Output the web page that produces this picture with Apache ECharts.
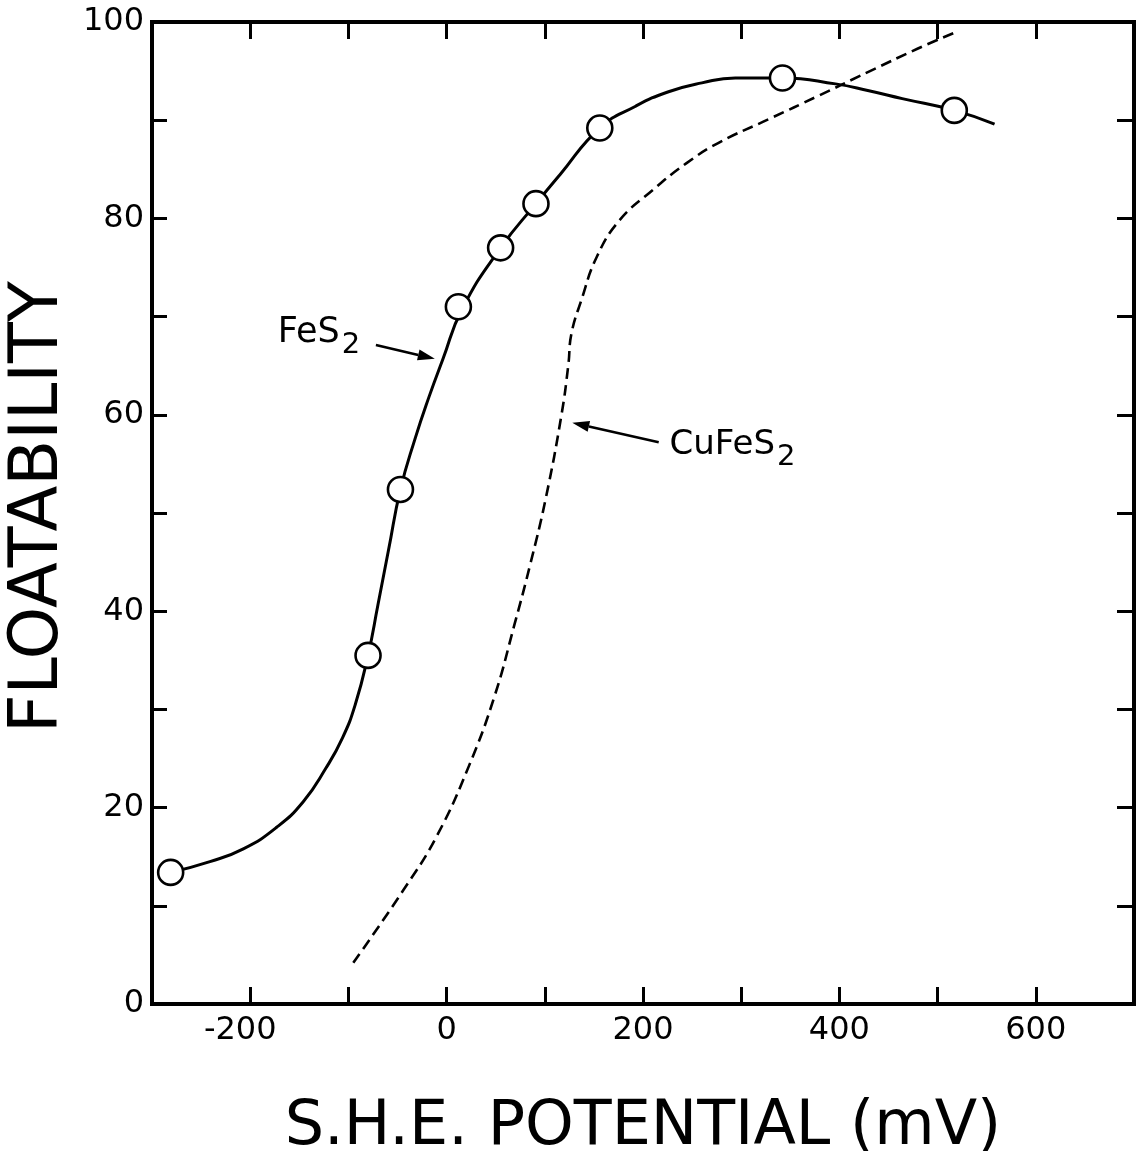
<!DOCTYPE html>
<html>
<head>
<meta charset="utf-8">
<script src="https://cdn.jsdelivr.net/npm/echarts@6/dist/echarts.min.js"></script>
<style>
  html, body { margin: 0; padding: 0; background: #fff; }
  #chart { width: 1142px; height: 1151px; }
</style>
</head>
<body>
<div id="chart"></div>
<script>
// FeS2: measured floatability points (open circles)
const fes2Potential = [-281, -80, -47, 12, 55, 91, 156, 342, 517];
const fes2Floatability = [13.4, 35.5, 52.4, 71.0, 77.0, 81.5, 89.2, 94.3, 91.0];

// FeS2: drawn trend curve (solid)
const fes2CurvePotential = [-281, -241, -207, -173, -146, -123, -106, -93, -80, -70, -59, -47, -32, -18, -4, 16, 55, 91, 115, 156, 192, 226, 260, 294, 342, 396, 430, 464, 517, 558];
const fes2CurveFloatability = [13.4, 14.5, 15.8, 18.0, 20.6, 24.0, 27.1, 30.5, 35.5, 40.6, 46.3, 52.4, 57.6, 61.8, 65.6, 70.8, 77.0, 81.5, 84.4, 89.2, 91.4, 92.9, 93.8, 94.3, 94.3, 93.7, 93.0, 92.2, 91.0, 89.6];

// CuFeS2: trend curve (dashed)
const cufes2CurvePotential = [-95, -44, -10, 23, 49, 69, 85, 101, 117, 124, 127, 137, 153, 176, 210, 244, 277, 328, 379, 429, 480, 517];
const cufes2CurveFloatability = [4.2, 11.6, 17.1, 24.3, 31.4, 38.6, 44.7, 51.5, 60.0, 65.1, 68.2, 71.6, 76.1, 79.8, 82.9, 85.6, 87.7, 90.1, 92.5, 94.9, 97.3, 98.9];

// Axis ranges and tick steps
const xRange = [-300, 700];
const xTickStep = 100;
const xLabelStep = 200;
const yRange = [0, 100];
const yTickStep = 10;
const yLabelStep = 20;

const xTitle = 'S.H.E. POTENTIAL (mV)';
const yTitle = 'FLOATABILITY';

const FONT = 'DejaVu Sans';
const INK = '#000';
const TICK_FONT = 32;

function pairs(xs, ys) { return xs.map((x, i) => [x, ys[i]]); }

function axisCommon(labels, tickLen, labelStep, isX) {
  return {
    type: 'value',
    axisLine: { show: true, onZero: false, lineStyle: { color: INK, width: 4, cap: 'square' } },
    axisTick: { show: true, inside: true, length: tickLen, lineStyle: { color: INK, width: 3 } },
    axisLabel: labels ? {
      show: true,
      color: INK,
      fontFamily: FONT,
      fontSize: TICK_FONT,
      margin: isX ? 11 : 8,
      // negative labels keep their digits centred on the tick, the sign hangs left
      formatter: v => (v % labelStep !== 0 ? '' : (v < 0 ? '{neg|' + v + '}' : String(v))),
      rich: { neg: { fontFamily: FONT, fontSize: TICK_FONT, color: INK, padding: [0, 20, 0, 0] } }
    } : { show: false },
    splitLine: { show: false }
  };
}

const chart = echarts.init(document.getElementById('chart'), null, { renderer: 'canvas' });

const xBottom = Object.assign(axisCommon(true, 17, xLabelStep, true), {
  position: 'bottom', min: xRange[0], max: xRange[1], interval: xTickStep,
  name: xTitle, nameLocation: 'middle', nameGap: 93, nameMoveOverlap: false,
  nameTextStyle: { color: INK, fontFamily: FONT, fontSize: 62 }
});
const xTop = Object.assign(axisCommon(false, 17, xLabelStep, true), {
  position: 'top', min: xRange[0], max: xRange[1], interval: xTickStep
});
const yLeft = Object.assign(axisCommon(true, 15, yLabelStep, false), {
  position: 'left', min: yRange[0], max: yRange[1], interval: yTickStep
});
const yRight = Object.assign(axisCommon(false, 17, yLabelStep, false), {
  position: 'right', min: yRange[0], max: yRange[1], interval: yTickStep
});

chart.setOption({
  animation: false,
  backgroundColor: '#fff',
  grid: { left: 152, right: 8, top: 22, bottom: 147, containLabel: false, outerBoundsMode: 'none' },
  xAxis: [xBottom, xTop],
  yAxis: [yLeft, yRight],
  series: [
    {
      name: 'CuFeS2',
      type: 'line',
      xAxisIndex: 0, yAxisIndex: 0,
      data: pairs(cufes2CurvePotential, cufes2CurveFloatability),
      smooth: 0.45,
      showSymbol: false,
      lineStyle: { color: INK, width: 2.6, type: [11, 6] },
      z: 2
    },
    {
      name: 'FeS2',
      type: 'line',
      xAxisIndex: 0, yAxisIndex: 0,
      data: pairs(fes2CurvePotential, fes2CurveFloatability),
      smooth: 0.5,
      showSymbol: false,
      lineStyle: { color: INK, width: 3 },
      z: 3
    },
    {
      name: 'FeS2 points',
      type: 'scatter',
      xAxisIndex: 0, yAxisIndex: 0,
      data: pairs(fes2Potential, fes2Floatability),
      symbol: 'circle',
      symbolSize: 25,
      itemStyle: { color: '#fff', opacity: 1, borderColor: INK, borderWidth: 2.6 },
      z: 5
    }
  ]
});

// Curve labels with arrows, anchored in data coordinates
const toPx = p => chart.convertToPixel({ xAxisIndex: 0, yAxisIndex: 0 }, p);
const measure = document.createElement('canvas').getContext('2d');

function formulaLabel(anchor, main, sub, mainSize, subSize) {
  const p = toPx(anchor);
  measure.font = mainSize + 'px "' + FONT + '"';
  const w = measure.measureText(main).width;
  return [
    { type: 'text', x: p[0], y: p[1], z: 20,
      style: { text: main, fill: INK, font: mainSize + 'px "' + FONT + '"',
               align: 'left', verticalAlign: 'middle', textAlign: 'left', textVerticalAlign: 'middle' } },
    { type: 'text', x: p[0] + w + 2, y: p[1] + 12, z: 20,
      style: { text: sub, fill: INK, font: subSize + 'px "' + FONT + '"',
               align: 'left', verticalAlign: 'middle', textAlign: 'left', textVerticalAlign: 'middle' } }
  ];
}

function arrow(from, to) {
  const a = toPx(from), b = toPx(to);
  const dx = b[0] - a[0], dy = b[1] - a[1];
  const len = Math.hypot(dx, dy), ux = dx / len, uy = dy / len;
  const headLen = 17, half = 5.5;
  const bx = b[0] - ux * headLen, by = b[1] - uy * headLen;
  return [
    { type: 'line', z: 20, shape: { x1: a[0], y1: a[1], x2: bx, y2: by },
      style: { stroke: INK, lineWidth: 2.6 } },
    { type: 'polygon', z: 20,
      shape: { points: [[b[0], b[1]], [bx - uy * half, by + ux * half], [bx + uy * half, by - ux * half]] },
      style: { fill: INK } }
  ];
}

// Vertical axis title, centred on the plot's middle height
const yMid = toPx([xRange[0], (yRange[0] + yRange[1]) / 2])[1];
const yTitleText = {
  type: 'text', x: 40, y: yMid - 6, rotation: Math.PI / 2, z: 20,
  style: { text: yTitle, fill: INK, font: '67px "' + FONT + '"',
           align: 'center', verticalAlign: 'middle', textAlign: 'center', textVerticalAlign: 'middle' }
};

chart.setOption({
  graphic: [yTitleText].concat(
    formulaLabel([-172, 68.3], 'FeS', '2', 35, 29),
    arrow([-72, 67.1], [-12, 65.7]),
    formulaLabel([227, 56.9], 'CuFeS', '2', 34, 29),
    arrow([216, 57.2], [128, 59.2])
  )
});
</script>
</body>
</html>
